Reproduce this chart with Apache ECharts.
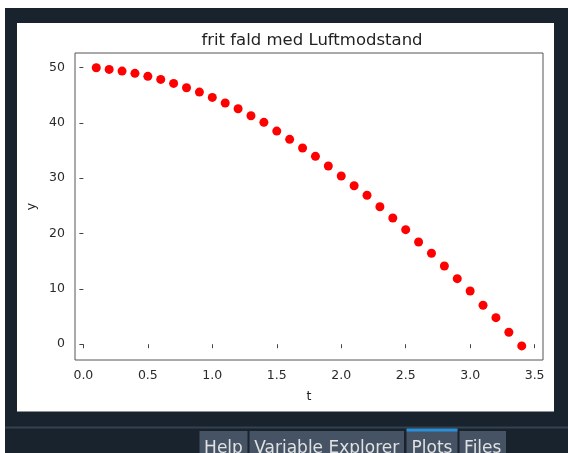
<!DOCTYPE html>
<html>
<head>
<meta charset="utf-8">
<script src="https://cdn.jsdelivr.net/npm/echarts@6/dist/echarts.min.js"></script>
<style>
html,body{margin:0;padding:0;background:#ffffff;}
#chart{width:568px;height:453px;}
</style>
</head>
<body>
<div id="chart"></div>
<script>
// Data
const tValues = [0.1,0.2,0.3,0.4,0.5,0.6,0.7,0.8,0.9,1.0,1.1,1.2,1.3,1.4,1.5,1.6,1.7,1.8,1.9,2.0,2.1,2.2,2.3,2.4,2.5,2.6,2.7,2.8,2.9,3.0,3.1,3.2,3.3,3.4];
const yValues = [49.93,49.64,49.33,48.92,48.38,47.83,47.11,46.32,45.54,44.58,43.56,42.53,41.26,40.07,38.5,37.0,35.45,33.94,32.18,30.38,28.63,26.9,24.84,22.8,20.69,18.47,16.43,14.13,11.84,9.62,7.04,4.8,2.17,-0.31];
const xTicks = [0.0,0.5,1.0,1.5,2.0,2.5,3.0,3.5];
const yTicks = [0,10,20,30,40,50];
const xLimits = [-0.065, 3.565];
const yLimits = [-2.85, 52.6];
const titleText = 'frit fald med Luftmodstand';
const xName = 't';
const yName = 'y';
const tabNames = ['Help','Variable Explorer','Plots','Files'];

const points = tValues.map((t,i)=>[t,yValues[i]]);
const FONT = 'DejaVu Sans';

// tab geometry (decoration of the surrounding window)
const tabX = [199.5, 249.5, 406.5, 459.5];
const tabW = [48, 154.5, 51, 46.5];
const tabGraphics = [];
tabNames.forEach((name,i)=>{
  tabGraphics.push({type:'rect', shape:{x:tabX[i], y:431, width:tabW[i], height:30}, style:{fill:'#455364'}, silent:true});
  tabGraphics.push({type:'text', x:tabX[i]+tabW[i]/2, y:448.5, style:{text:name, fill:'#dfe1e2', font:'17px "DejaVu Sans"', textAlign:'center', textVerticalAlign:'middle'}, silent:true});
});
tabGraphics.push({type:'rect', shape:{x:406.5, y:428.5, width:51, height:3}, style:{fill:'#2a8fd8'}, silent:true});

const chart = echarts.init(document.getElementById('chart'), null, {renderer:'canvas'});
chart.setOption({
  animation:false,
  backgroundColor:'transparent',
  graphic:[
    {type:'rect', z:-10, shape:{x:5, y:8, width:563, height:445}, style:{fill:'#19232d'}, silent:true},
    {type:'rect', z:-9, shape:{x:17, y:23, width:537, height:388.5}, style:{fill:'#ffffff'}, silent:true},
    {type:'rect', z:-9, shape:{x:5, y:426.5, width:563, height:2}, style:{fill:'#34414f'}, silent:true},
    ...tabGraphics.map(g=>Object.assign({z:-8}, g))
  ],
  title:{
    text:titleText,
    left:307, top:27, textAlign:'center',
    textStyle:{fontFamily:FONT, fontSize:16.5, fontWeight:'normal', color:'#222'}
  },
  grid:{left:75, right:25, top:53, bottom:93, show:true, borderColor:'#555', borderWidth:1, backgroundColor:'transparent'},
  xAxis:{
    type:'value', min:xLimits[0], max:xLimits[1],
    name:xName, nameLocation:'middle', nameGap:30,
    nameTextStyle:{fontFamily:FONT, fontSize:12.5, color:'#222'},
    axisLine:{show:false},
    splitLine:{show:false},
    axisTick:{show:true, inside:false, length:4, lineStyle:{color:'#444'}, customValues:xTicks},
    axisLabel:{fontFamily:FONT, fontSize:12.5, color:'#2a2a2a', margin:9, customValues:xTicks, formatter:(v)=>v.toFixed(1)}
  },
  yAxis:{
    type:'value', min:yLimits[0], max:yLimits[1],
    name:yName, nameLocation:'middle', nameGap:37,
    nameTextStyle:{fontFamily:FONT, fontSize:12.5, color:'#222'},
    axisLine:{show:false},
    splitLine:{show:false},
    axisTick:{show:true, inside:false, length:4, lineStyle:{color:'#444'}, customValues:yTicks},
    axisLabel:{fontFamily:FONT, fontSize:12.5, color:'#2a2a2a', margin:10, customValues:yTicks, formatter:(v)=>String(v)}
  },
  series:[{
    type:'scatter',
    data:points,
    symbol:'circle',
    symbolSize:9,
    itemStyle:{color:'#ff0000', opacity:1},
    emphasis:{disabled:true}
  }]
});
</script>
</body>
</html>
